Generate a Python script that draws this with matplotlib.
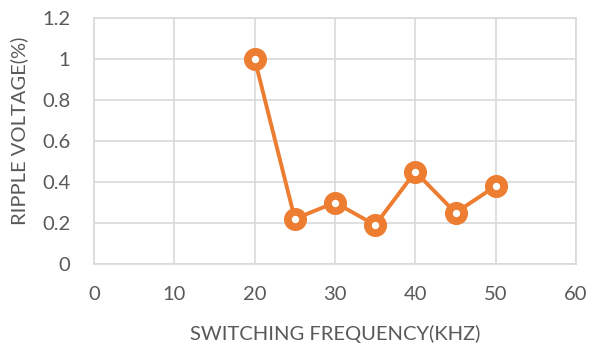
import matplotlib
matplotlib.use("Agg")
import matplotlib.pyplot as plt

freq_khz = [20, 25, 30, 35, 40, 45, 50]
ripple_pct = [1.0, 0.22, 0.30, 0.19, 0.45, 0.25, 0.38]
x_ticks = [0, 10, 20, 30, 40, 50, 60]
y_ticks = [0, 0.2, 0.4, 0.6, 0.8, 1.0, 1.2]
y_tick_labels = ["0", "0.2", "0.4", "0.6", "0.8", "1", "1.2"]

plt.rcParams['font.family'] = ['Lato', 'DejaVu Sans']

fig = plt.figure(figsize=(5.9, 3.45), dpi=100)
ax = fig.add_axes([94/590, 81/345, (576-94)/590, (264-18)/345])

grid_c = '#D9D9D9'
txt_c = '#595959'
orange = '#ED7D31'

ax.set_xlim(0, 60)
ax.set_ylim(0, 1.2)
ax.set_xticks(x_ticks)
ax.set_yticks(y_ticks)
ax.set_yticklabels(y_tick_labels)
ax.grid(True, color=grid_c, linewidth=1.2)
ax.set_axisbelow(True)
for s in ax.spines.values():
    s.set_color(grid_c)
    s.set_linewidth(1.2)
ax.tick_params(axis='x', length=0, labelsize=14.5, labelcolor=txt_c, pad=16)
ax.tick_params(axis='y', length=0, labelsize=14.5, labelcolor=txt_c, pad=17)

ax.plot(freq_khz, ripple_pct, color=orange, linewidth=2.8, marker='o',
        markersize=11, markeredgewidth=5.6, markerfacecolor='white',
        markeredgecolor=orange, clip_on=False, zorder=3)

ax.set_xlabel("SWITCHING FREQUENCY(KHZ)", fontsize=14.5, color=txt_c)
ax.set_ylabel("RIPPLE VOLTAGE(%)", fontsize=14.5, color=txt_c)
ax.xaxis.set_label_coords(0.5, -0.285)
ax.xaxis.label.set_va('center')
ax.yaxis.set_label_coords(-0.156, 0.54)
ax.yaxis.label.set_va('center')

fig.savefig("out.png", dpi=100)
